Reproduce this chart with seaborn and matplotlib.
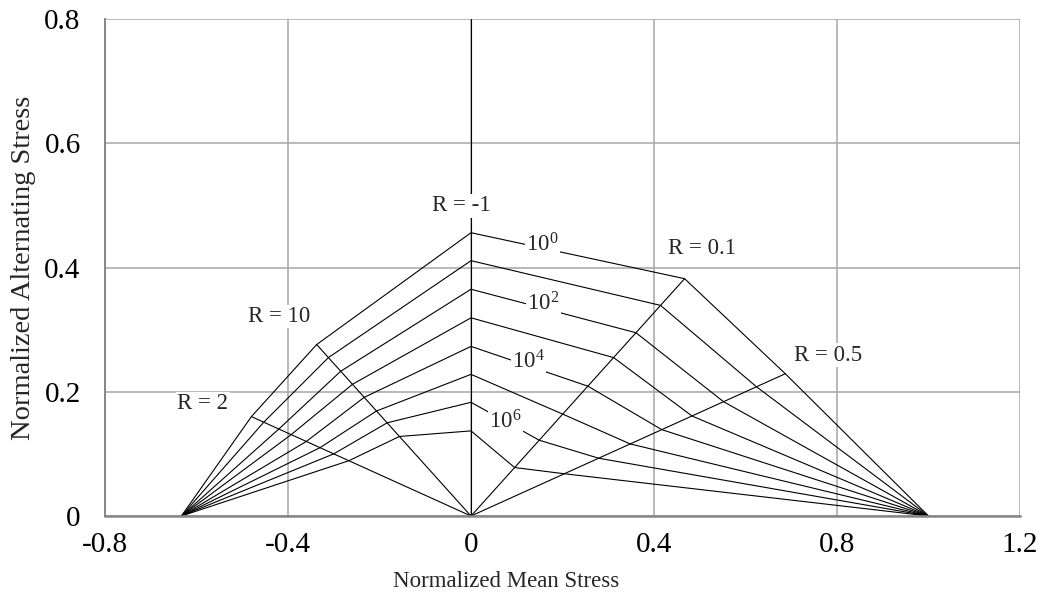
import numpy as np
import pandas as pd
import matplotlib
matplotlib.use("Agg")
import matplotlib.pyplot as plt
import seaborn as sns
from matplotlib.ticker import MultipleLocator, FixedLocator, FixedFormatter

# Life of each constant-life line, as log10(cycles to failure)
log_cycles = [0, 1, 2, 3, 4, 5, 6, 7]

# Normalized alternating stress reached at each stress ratio R, per life
amp_r2 = [0.160, 0.151, 0.140, 0.131, 0.120, 0.110, 0.100, 0.089]
amp_r10 = [0.276, 0.255, 0.233, 0.212, 0.191, 0.169, 0.150, 0.128]
amp_rm1 = [0.456, 0.411, 0.365, 0.319, 0.273, 0.228, 0.183, 0.137]
amp_r01 = [0.382, 0.339, 0.295, 0.255, 0.209, 0.164, 0.122, 0.078]
amp_r05 = [0.229, 0.208, 0.184, 0.161, 0.139, 0.116, 0.093, 0.068]

# Stress ratios in order along each constant-life line (compression -> tension)
r_ratios = [2, 10, -1, 0.1, 0.5]
amp_by_r = [amp_r2, amp_r10, amp_rm1, amp_r01, amp_r05]

# Normalized static strengths
ucs = -0.633
uts = 1.0

x_ticks = [-0.8, -0.4, 0, 0.4, 0.8, 1.2]
y_ticks = [0, 0.2, 0.4, 0.6, 0.8]
x_ticklabels = ["-0.8", "-0.4", "0", "0.4", "0.8", "1.2"]
y_ticklabels = ["0", "0.2", "0.4", "0.6", "0.8"]

r_labels = ["R = 2", "R = 10", "R = -1", "R = 0.1", "R = 0.5"]
life_labels = [r"$\mathregular{10^{0}}$", r"$\mathregular{10^{2}}$",
               r"$\mathregular{10^{4}}$", r"$\mathregular{10^{6}}$"]


def mean_stress(r, amp):
    """Mean stress on the radial line of ratio r for a given amplitude."""
    if r == -1:
        return 0.0 * np.asarray(amp)
    return np.asarray(amp) * (1 + r) / (1 - r)


# Constant-life lines as a long table
rows = []
for k, n in enumerate(log_cycles):
    pts = [(ucs, 0.0)]
    for r, amps in zip(r_ratios, amp_by_r):
        pts.append((float(mean_stress(r, amps[k])), amps[k]))
    pts.append((uts, 0.0))
    for order, (xm, ya) in enumerate(pts):
        rows.append({"life": n, "order": order, "mean": xm, "amp": ya})
life_df = pd.DataFrame(rows)

# Radial R lines from the origin out to the 10^0 line (R = -1 spans the full height)
ray_rows = []
for r, amps in zip(r_ratios, amp_by_r):
    end_amp = y_ticks[-1] if r == -1 else amps[0]
    ray_rows.append({"R": str(r), "mean": 0.0, "amp": 0.0})
    ray_rows.append({"R": str(r), "mean": float(mean_stress(r, end_amp)), "amp": end_amp})
ray_df = pd.DataFrame(ray_rows)

sns.set_style("white")
plt.rcParams["font.family"] = ["Liberation Serif", "DejaVu Serif"]
plt.rcParams["mathtext.fontset"] = "custom"
plt.rcParams["mathtext.rm"] = "Liberation Serif"
plt.rcParams["axes.unicode_minus"] = False

fig = plt.figure(figsize=(10.44, 6.06), dpi=100)
ax = fig.add_axes([105 / 1044, 1 - 516 / 606, 915 / 1044, 497 / 606])

grid_c = "#a6a6a6"
axis_c = "#868686"

ax.set_xlim(-0.8, 1.2)
ax.set_ylim(0, 0.8)
ax.xaxis.set_major_locator(FixedLocator(x_ticks))
ax.xaxis.set_major_formatter(FixedFormatter(x_ticklabels))
ax.xaxis.set_minor_locator(MultipleLocator(0.2))
ax.yaxis.set_major_locator(FixedLocator(y_ticks))
ax.yaxis.set_major_formatter(FixedFormatter(y_ticklabels))
ax.yaxis.set_minor_locator(MultipleLocator(0.1))
ax.grid(True, which="major", color=grid_c, linewidth=1.1)
ax.set_axisbelow(True)

for side in ["top", "right"]:
    ax.spines[side].set_visible(False)
ax.spines["left"].set_color(axis_c)
ax.spines["left"].set_linewidth(1.4)
ax.spines["bottom"].set_color(axis_c)
ax.spines["bottom"].set_linewidth(1.8)

ax.tick_params(which="both", direction="inout", color=axis_c, width=1.0,
               labelsize=21, labelcolor="black")
ax.tick_params(which="major", length=11)
ax.tick_params(which="minor", length=11)
ax.tick_params(axis="x", pad=6)
ax.tick_params(axis="y", pad=12)

sns.lineplot(data=life_df, x="mean", y="amp", units="life", estimator=None,
             sort=False, color="black", linewidth=0.8, ax=ax, legend=False)
sns.lineplot(data=ray_df, x="mean", y="amp", units="R", estimator=None,
             sort=False, color="black", linewidth=0.8, ax=ax, legend=False)

ax.set_xlabel("Normalized Mean Stress", fontsize=16.5)
ax.set_ylabel("Normalized Alternating Stress", fontsize=20.5)
ax.xaxis.set_label_coords(0.438, -0.11)
ax.yaxis.set_label_coords(-0.0754, 0.5)

box = dict(facecolor="white", edgecolor="none", pad=1.0)
r_label_pos = [(-0.586, 0.181), (-0.419, 0.321), (-0.021, 0.499),
               (0.504, 0.431), (0.780, 0.259)]
for txt, (lx, ly) in zip(r_labels, r_label_pos):
    ax.text(lx, ly, txt, fontsize=16.5, ha="center", va="center", bbox=box, zorder=5)

life_label_pos = [(0.156, 0.437), (0.158, 0.341), (0.126, 0.248), (0.075, 0.151)]
for txt, (lx, ly) in zip(life_labels, life_label_pos):
    ax.text(lx, ly, txt, fontsize=16.5, ha="center", va="center", bbox=box, zorder=5)

fig.savefig("out.png", dpi=100)
